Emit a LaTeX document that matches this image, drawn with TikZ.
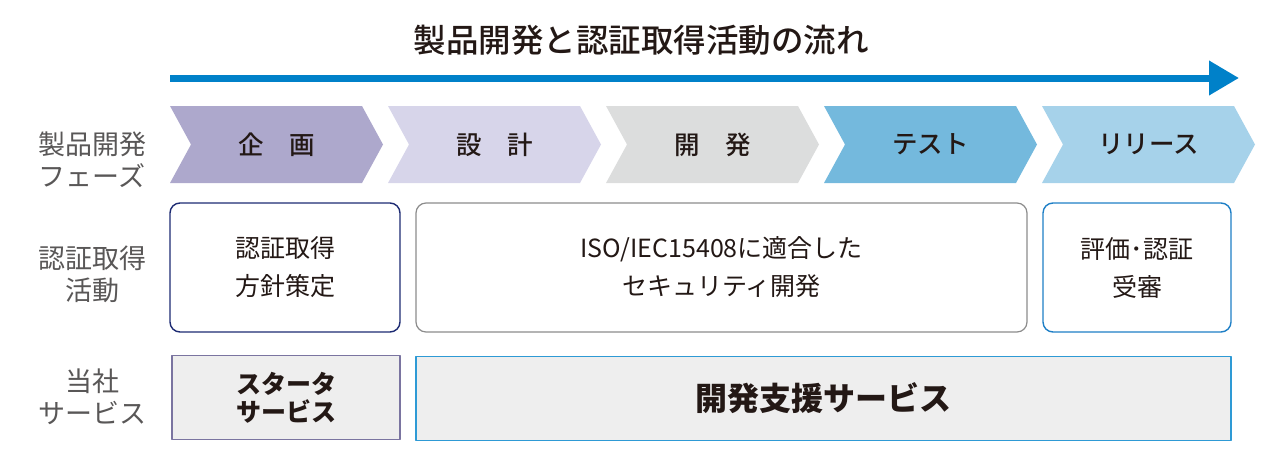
\documentclass[tikz,border=0pt]{standalone}
\usepackage{fontspec}
\setmainfont{Noto Sans CJK JP}
\newfontfamily\jpmedium{Noto Sans CJK JP Medium}
\usepackage{xcolor}
\usepackage{tikz}
\usetikzlibrary{arrows.meta,positioning}
\definecolor{flowblue}{HTML}{0081C9}
\definecolor{phplan}{HTML}{ADA8CC}
\definecolor{phdesign}{HTML}{D7D5EA}
\definecolor{phdev}{HTML}{DCDDDD}
\definecolor{phtest}{HTML}{74B9DD}
\definecolor{phrelease}{HTML}{A6D2EA}
\definecolor{navyline}{HTML}{1D2B73}
\definecolor{grayline}{HTML}{8C8C8C}
\definecolor{blueline}{HTML}{1E7FC6}
\definecolor{svcpurple}{HTML}{7A74A0}
\definecolor{svcblue}{HTML}{2E9AD5}
\definecolor{softgray}{HTML}{EEEEEE}
\definecolor{ink}{HTML}{231815}
\definecolor{labelgray}{HTML}{595757}
\tikzset{
    every picture/.style={line join=round},
    titletext/.style={font=\fontsize{32.5}{36}\selectfont\jpmedium,text=ink},
    phasetext/.style={font=\fontsize{25.5}{28}\selectfont\jpmedium,text=ink,inner sep=0pt},
    sidelabel/.style={font=\fontsize{27}{32}\selectfont,text=labelgray,align=center,inner sep=0pt},
    actbox/.style={draw,fill=white,line width=1.4pt,rounded corners=10pt,
      minimum height=129pt,inner sep=0pt,align=center,text=ink,
      font=\fontsize{25}{38}\selectfont},
    svcbox/.style={draw,fill=softgray,line width=1.5pt,minimum height=84pt,
      inner sep=0pt,align=center,text=ink},
    flowarrow/.style={-{Triangle[length=30pt,width=33pt]},draw=flowblue,line width=7pt}
}
\begin{document}
\begin{tikzpicture}[x=1pt,y=-1pt]
    \useasboundingbox (0,0) rectangle (1280,458);
    % title and flow arrow
    \node[titletext] (title) at (641,40) {製品開発と認証取得活動の流れ};
    \coordinate (flowstart) at (170,78);
    \coordinate (flowend) at (1239,78);
    \draw[flowarrow] (flowstart) -- (flowend);
    % phases
    \foreach \L/\col/\txt/\nm in {170/phplan/{企　画}/plan,388/phdesign/{設　計}/design,
        606/phdev/{開　発}/dev,824/phtest/{テスト}/test,1042/phrelease/{リリース}/release}{
      \fill[\col] (\L,106) -- ++(192,0) -- ++(21,38.5) -- ++(-21,38.5) -- ++(-192,0)
        -- ++(21,-38.5) -- cycle;
      \node[phasetext] (\nm) at (\L+106.5,144.5) {\txt};
    }
    % row labels
    \node[sidelabel] (phaselbl) at (92,160) {製品開発\\フェーズ};
    \node[sidelabel] (certlbl) at (92,274) {認証取得\\活動};
    \node[sidelabel] (svclbl) at (92,397) {当社\\サービス};
    % certification activities
    \node[actbox,draw=navyline,minimum width=230pt] (policy) at (285,267.5) {認証取得\\方針策定};
    \node[actbox,draw=grayline,line width=1.2pt,minimum width=611pt] (secdev) at (721.5,267.5)
      {ISO/IEC15408に適合した\\セキュリティ開発};
    \node[actbox,draw=blueline,minimum width=188pt] (evalcert) at (1137,267.5) {評価･認証\\受審};
    % services
    \node[svcbox,draw=svcpurple,minimum width=228pt,
      font=\fontsize{25}{28}\selectfont\bfseries] (starter) at (286,397.5) {スタータ\\サービス};
    \node[svcbox,draw=svcblue,minimum width=815pt,
      font=\fontsize{32}{34}\selectfont\bfseries] (devsupport) at (823.5,398.5) {開発支援サービス};
\end{tikzpicture}
\end{document}
